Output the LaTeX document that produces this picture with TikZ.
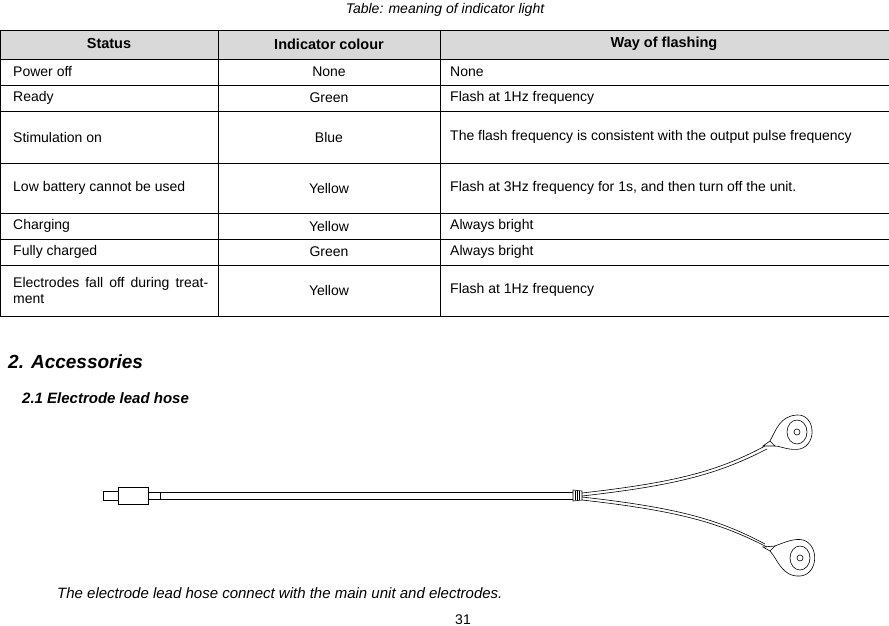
\documentclass[tikz,border=0pt]{standalone}
\usepackage{fontspec}
\setmainfont{Liberation Sans}
\begin{document}
\begin{tikzpicture}[x=1pt,y=-1pt,
  t/.style={font=\fontsize{14}{16}\selectfont,inner sep=0pt},
  tl/.style={t,anchor=west},
  h/.style={font=\fontsize{14.5}{16}\selectfont\bfseries,inner sep=0pt},
  wire/.style={line width=0.6pt}]
\useasboundingbox (0,0) rectangle (889,626);
\fill[gray!30] (0,30) rectangle (889,59);
\draw[line width=0.8pt] (0,30) rectangle (889,316);
\foreach \y in {59,85,111,163,213,239,265} \draw[line width=0.6pt] (0,\y) -- (889,\y);
\foreach \x in {218,440} \draw[line width=0.6pt] (\x,30) -- (\x,316);
\node[t,font=\fontsize{14}{16}\selectfont\itshape] (title) at (445,10) {Table: meaning of indicator light};
\node[h] (h1) at (109,44) {Status};
\node[h] (h2) at (329,44) {Indicator colour};
\node[h] (h3) at (664,44) {Way of flashing};
\node[tl] (a1) at (13,72) {Power off};
\node[t] (b1) at (329,72) {None};
\node[tl] (c1) at (450,72) {None};
\node[tl] (a2) at (13,98) {Ready};
\node[t] (b2) at (329,98) {Green};
\node[tl] (c2) at (450,98) {Flash at 1Hz frequency};
\node[tl] (a3) at (13,137) {Stimulation on};
\node[t] (b3) at (329,137) {Blue};
\node[t,text width=427pt,align=justify,anchor=west] (c3) at (450,137) {The flash frequency is consistent with the output pulse frequency};
\node[t,text width=195pt,align=justify,anchor=west] (a4) at (13,188) {Low battery cannot be used};
\node[t] (b4) at (329,188) {Yellow};
\node[t,text width=427pt,align=justify,anchor=west] (c4) at (450,188) {Flash at 3Hz frequency for 1s, and then turn off the unit.};
\node[tl] (a5) at (13,226) {Charging};
\node[t] (b5) at (329,226) {Yellow};
\node[tl] (c5) at (450,226) {Always bright};
\node[tl] (a6) at (13,252) {Fully charged};
\node[t] (b6) at (329,252) {Green};
\node[tl] (c6) at (450,252) {Always bright};
\node[t,text width=195pt,align=justify,anchor=west] (a7) at (13,290) {Electrodes fall off during treatment};
\node[t] (b7) at (329,290) {Yellow};
\node[tl] (c7) at (450,290) {Flash at 1Hz frequency};
\node[anchor=west,inner sep=0pt,font=\fontsize{19}{22}\selectfont\bfseries\itshape] (s2) at (8,362) {2. Accessories};
\node[anchor=west,inner sep=0pt,font=\fontsize{15}{18}\selectfont\bfseries\itshape] (s21) at (22,398) {2.1 Electrode lead hose};
\node[anchor=west,inner sep=0pt,font=\fontsize{15}{18}\selectfont\itshape] (cap) at (57,593) {The electrode lead hose connect with the main unit and electrodes.};
\node[t] (pg) at (463,620) {31};
% cable
\draw[wire] (103,491) rectangle (118,500);
\draw[wire] (118,487) rectangle (148,504);
\draw[wire] (148,492) rectangle (160,499);
\draw[wire] (160,492) -- (573,492) (160,499) -- (573,499);
\draw[wire] (573,490) -- (582,491) -- (582,500) -- (573,501) -- cycle;
\foreach \xx in {575,577,579} \draw[line width=0.3pt] (\xx,491) -- (\xx,500);
\draw[wire] (582,493) .. controls (680,482) and (720,470) .. (765,446);
\draw[wire] (582,496) .. controls (680,485) and (720,473) .. (767,449);
\draw[wire] (582,497) .. controls (680,508) and (720,520) .. (765,544);
\draw[wire] (582,500) .. controls (680,511) and (720,523) .. (767,547);
% upper electrode
\draw[wire] (763,446) -- (770,441) -- (775,446) -- cycle;
\draw[wire] (770,441) .. controls (776,430) and (780,416) .. (797,415) .. controls (815,414) and (818,444) .. (800,449) .. controls (790,451) and (780,446) .. (775,446);
\draw[wire] (797,432) ellipse (10 and 12);
\draw[wire] (797,432) circle (3);
% lower electrode
\draw[wire] (763,547) -- (770,551) -- (775,546) -- cycle;
\draw[wire] (775,546) .. controls (785,542) and (795,538) .. (803,540) .. controls (820,545) and (818,575) .. (800,576) .. controls (782,577) and (778,560) .. (770,551);
\draw[wire] (800,558) ellipse (10 and 12);
\draw[wire] (800,558) circle (3);
\end{tikzpicture}
\end{document}
